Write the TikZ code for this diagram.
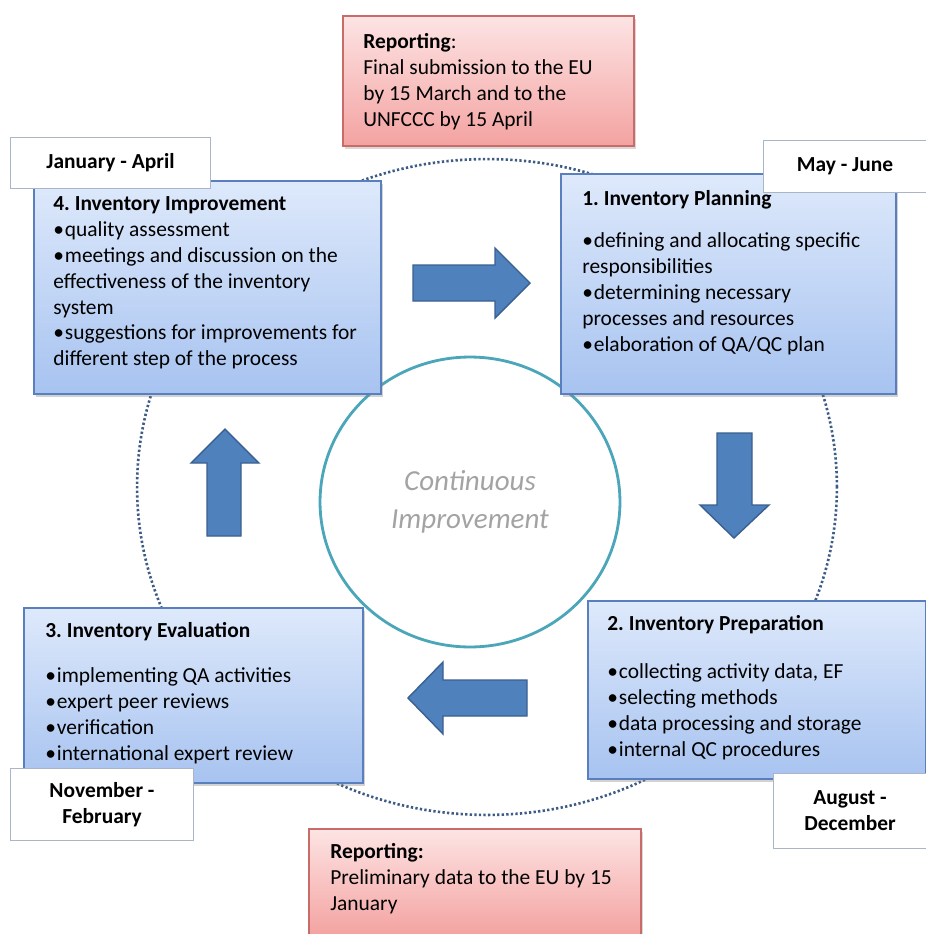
\documentclass[tikz,border=0pt]{standalone}
\usepackage{fontspec}
\setmainfont{Carlito}
\usetikzlibrary{shadows,shapes.geometric}
\frenchspacing
\definecolor{bluebd}{HTML}{5A7FBE}
\definecolor{bluetop}{HTML}{DEE9FB}
\definecolor{bluebot}{HTML}{A7C3F0}
\definecolor{redbd}{HTML}{C96B69}
\definecolor{redtop}{HTML}{FDE4E4}
\definecolor{redbot}{HTML}{F3A3A1}
\definecolor{datebd}{HTML}{A8B6C8}
\definecolor{arrowfill}{HTML}{4F81BD}
\definecolor{arrowbd}{HTML}{3A6090}
\definecolor{ringc}{HTML}{4BA6BA}
\definecolor{dotc}{HTML}{3D5C85}
\definecolor{ctext}{HTML}{A3A3A3}
\newcommand\stepbul{\textbullet\hspace{0.5pt}}
\tikzset{
  bluebox/.style={draw=bluebd, line width=1pt, top color=bluetop, bottom color=bluebot,
    anchor=north west, inner sep=0pt,
    drop shadow={opacity=0.35, shadow xshift=1pt, shadow yshift=-2pt}},
  redbox/.style={draw=redbd, line width=1pt, top color=redtop, bottom color=redbot,
    anchor=north west, inner sep=0pt,
    drop shadow={opacity=0.3, shadow xshift=1pt, shadow yshift=-2pt}},
  datebox/.style={draw=datebd, line width=0.6pt, fill=white, anchor=north west, inner sep=0pt},
  txt/.style={align=left, inner sep=0pt, anchor=north west, font=\fontsize{12.2}{14.74}\selectfont},
  datetxt/.style={align=center, inner sep=0pt, font=\fontsize{12.2}{14.74}\selectfont\bfseries},
  blockarrow/.style={fill=arrowfill, draw=arrowbd, line width=0.8pt, line join=miter},
}
\begin{document}
\begin{tikzpicture}[x=0.02cm, y=-0.02cm]
\useasboundingbox (0,0) rectangle (926,934);
\fill[white] (0,0) rectangle (926,934);

% dotted cycle ring
\draw[dotc, line width=1.5pt, dash pattern=on 1.3pt off 1.3pt] (487,487) ellipse [x radius=7cm, y radius=6.56cm];

% central circle
\node[ellipse, draw=ringc, line width=1.6pt, fill=white, minimum width=6cm, minimum height=5.8cm,
      inner sep=0pt, align=center, text=ctext, font=\fontsize{16.5}{21.5}\selectfont\itshape] (ci) at (470,502)
      {Continuous\\Improvement};

% blue step boxes
\node[bluebox, minimum width=6.94cm, minimum height=4.26cm] (b4) at (33,180) {};
\node[bluebox, minimum width=6.70cm, minimum height=4.40cm] (b1) at (560,173) {};
\node[bluebox, minimum width=6.78cm, minimum height=3.50cm] (b3) at (23,607) {};
\node[bluebox, minimum width=6.76cm, minimum height=3.56cm] (b2) at (587,600) {};

% texts of step boxes
\node[txt] (t4) at (53,192) {\strut\textbf{4. Inventory Improvement}\\
  \stepbul quality assessment\\
  \stepbul meetings and discussion on the\\
  effectiveness of the inventory\\
  system\\
  \stepbul suggestions for improvements for\\
  different step of the process};
\node[txt] (t1) at (582,187) {\strut\textbf{1. Inventory Planning}\\[0.33cm]
  \stepbul defining and allocating specific\\
  responsibilities\\
  \stepbul determining necessary\\
  processes and resources\\
  \stepbul elaboration of QA/QC plan};
\node[txt] (t3) at (45,619) {\strut\textbf{3. Inventory Evaluation}\\[0.38cm]
  \stepbul implementing QA activities\\
  \stepbul expert peer reviews\\
  \stepbul verification\\
  \stepbul international expert review};
\node[txt] (t2) at (607,612) {\strut\textbf{2. Inventory Preparation}\\[0.44cm]
  \stepbul collecting activity data, EF\\
  \stepbul selecting methods\\
  \stepbul data processing and storage\\
  \stepbul internal QC procedures};

% date boxes
\node[datebox, minimum width=4.00cm, minimum height=1.02cm] (d4) at (10,137) {};
\node[datetxt] (dt4) at (d4.center) {January - April};
\node[datebox, minimum width=3.26cm, minimum height=1.04cm] (d1) at (763,140) {};
\node[datetxt] (dt1) at (d1.center) {May - June};
\node[datebox, minimum width=3.66cm, minimum height=1.44cm] (d3) at (10,768) {};
\node[datetxt] (dt3) at (d3.center) {November -\\February};
\node[datebox, minimum width=3.06cm, minimum height=1.50cm] (d2) at (773,773) {};
\node[datetxt] (dt2) at (d2.center) {August -\\December};

% reporting boxes
\node[redbox, minimum width=5.82cm, minimum height=2.60cm] (r1) at (342,15) {};
\node[txt] (rt1) at (363,30) {\strut\textbf{Reporting}:\\
  Final submission to the EU\\
  by 15 March and to the\\
  UNFCCC by 15 April};
\node[redbox, minimum width=6.64cm, minimum height=2.12cm] (r2) at (308,828) {};
\node[txt] (rt2) at (330,840) {\strut\textbf{Reporting:}\\
  Preliminary data to the EU by 15\\
  January};

% block arrows
\draw[blockarrow] (413,265) -- (495,265) -- (495,248) -- (530,283) -- (495,318) -- (495,301) -- (413,301) -- cycle;
\draw[blockarrow] (717,433) -- (752,433) -- (752,505) -- (769,505) -- (734,538) -- (700,505) -- (717,505) -- cycle;
\draw[blockarrow] (527,680) -- (443,680) -- (443,662) -- (408,698) -- (443,734) -- (443,716) -- (527,716) -- cycle;
\draw[blockarrow] (207,536) -- (207,463) -- (191,463) -- (225,429) -- (259,463) -- (241,463) -- (241,536) -- cycle;
\end{tikzpicture}
\end{document}
